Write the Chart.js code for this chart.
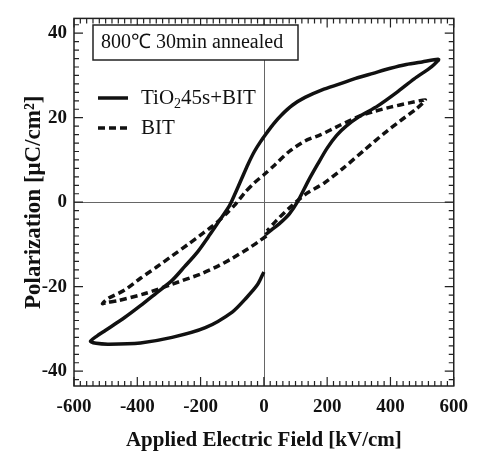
<!DOCTYPE html>
<html>
<head>
<meta charset="utf-8">
<script src="https://cdn.jsdelivr.net/npm/chart.js@4.4.1/dist/chart.umd.min.js"></script>
<style>
body{margin:0;background:#fff}
</style>
</head>
<body>
<canvas id="c" width="478" height="453"></canvas>
<script>
// tick labels
const xTicks = [-600, -400, -200, 0, 200, 400, 600];
const yTicks = [-40, -20, 0, 20, 40];

// TiO2 45s + BIT loop
const tioX = [0, -20, -55, -100, -185, -290, -390, -490, -530, -548, -530, -500, -440, -390, -340, -290, -250, -210, -170, -140, -110, -90, -70, -50, -30, -10, 10, 30, 55, 91, 130, 184, 240, 290, 345, 400, 450, 500, 552, 538, 520, 475, 420, 360, 300, 260, 230, 200, 170, 140, 108, 80, 50, 25, 5];
const tioY = [-16.5, -19.5, -22.6, -26, -29.7, -32, -33.3, -33.6, -33.4, -32.9, -31.8, -30.3, -27.3, -24.5, -21.5, -18.5, -15.2, -11.8, -7.6, -4.3, -1.0, 2.2, 5.6, 9.0, 12.0, 14.4, 16.5, 18.5, 20.6, 23.0, 24.8, 26.6, 28, 29.3, 30.5, 31.7, 32.6, 33.2, 33.8, 32.6, 31.5, 29.2, 26, 22.8, 20.2, 18, 15.8, 12.8, 9, 5, 0.3, -2.8, -5, -6.5, -7.7];

// BIT loop
const bitX = [8, -20, -50, -100, -150, -200, -290, -370, -460, -495, -510, -490, -440, -390, -340, -290, -240, -190, -150, -117, -90, -60, -30, 0, 30, 80, 130, 180, 240, 300, 350, 400, 460, 510, 500, 480, 430, 380, 320, 250, 190, 130, 80, 40, 10];
const bitY = [-8, -9.5, -11, -13.3, -15.3, -17, -19.4, -21.5, -23.3, -23.7, -24, -22.7, -20.8, -18, -15.4, -12.7, -10, -7.2, -4.9, -2.6, -0.5, 2.3, 4.6, 6.5, 8.5, 12, 14.5, 16, 18.2, 20.3, 21.5, 22.5, 23.5, 24.2, 23.3, 22, 19.2, 16.3, 12.5, 8, 4.5, 1.8, -1.4, -4.3, -6.8];

function pts(xs, ys) {
    return xs.map((x, i) => ({x: x, y: ys[i]}));
}

const serif = '"Liberation Serif", "Times New Roman", serif';

// frame, inner ticks, zero lines, note box and legend
const frame = {
    id: 'frame',
    beforeDatasetsDraw(chart) {
        const {ctx, chartArea: a, scales: {x, y}} = chart;
        ctx.save();
        ctx.strokeStyle = '#666';
        ctx.lineWidth = 1;
        const x0 = Math.round(x.getPixelForValue(0)) + 0.5;
        const y0 = Math.round(y.getPixelForValue(0)) + 0.5;
        ctx.beginPath();
        ctx.moveTo(x0, a.top); ctx.lineTo(x0, a.bottom);
        ctx.moveTo(a.left, y0); ctx.lineTo(a.right, y0);
        ctx.stroke();
        ctx.restore();
    },
    afterDatasetsDraw(chart) {
        const {ctx, chartArea: a, scales: {x, y}} = chart;
        ctx.save();
        ctx.strokeStyle = '#222';
        ctx.lineWidth = 1.5;
        ctx.strokeRect(a.left, a.top, a.right - a.left, a.bottom - a.top);
        ctx.lineWidth = 1.2;
        ctx.beginPath();
        for (let v = -600; v <= 600; v += 20) {
            const px = x.getPixelForValue(v);
            const len = v % 200 === 0 ? 9 : 5;
            ctx.moveTo(px, a.bottom); ctx.lineTo(px, a.bottom - len);
            ctx.moveTo(px, a.top); ctx.lineTo(px, a.top + len);
        }
        for (let v = -42; v <= 42; v += 2) {
            const py = y.getPixelForValue(v);
            const len = v % 20 === 0 ? 9 : 5;
            ctx.moveTo(a.left, py); ctx.lineTo(a.left + len, py);
            ctx.moveTo(a.right, py); ctx.lineTo(a.right - len, py);
        }
        ctx.stroke();

        // note box
        ctx.fillStyle = '#fff';
        ctx.fillRect(93, 25, 205, 35);
        ctx.strokeStyle = '#222';
        ctx.lineWidth = 1.5;
        ctx.strokeRect(93, 25, 205, 35);
        ctx.fillStyle = '#111';
        ctx.font = '20px ' + serif;
        ctx.textBaseline = 'middle';
        ctx.textAlign = 'left';
        ctx.fillText('800℃ 30min annealed', 101, 43);

        // legend
        chart.data.datasets.forEach((ds, i) => {
            const ly = 98 + i * 30;
            ctx.beginPath();
            ctx.strokeStyle = ds.borderColor;
            ctx.lineWidth = ds.borderWidth;
            ctx.setLineDash(ds.borderDash || []);
            ctx.moveTo(98, ly); ctx.lineTo(128, ly);
            ctx.stroke();
            ctx.setLineDash([]);
            let tx = 141;
            const parts = ds.label.split('₂');
            parts.forEach((p, k) => {
                ctx.font = '21px ' + serif;
                ctx.fillText(p, tx, ly);
                tx += ctx.measureText(p).width;
                if (k < parts.length - 1) {
                    ctx.font = '14px ' + serif;
                    ctx.fillText('2', tx, ly + 6);
                    tx += ctx.measureText('2').width;
                }
            });
        });
        ctx.restore();
    }
};

new Chart(document.getElementById('c'), {
    type: 'scatter',
    data: {
        datasets: [{
            label: 'TiO₂45s+BIT',
            data: pts(tioX, tioY),
            showLine: true,
            borderColor: '#111',
            borderWidth: 3.5,
            pointRadius: 0,
            tension: 0.25
        }, {
            label: 'BIT',
            data: pts(bitX, bitY),
            showLine: true,
            borderColor: '#111',
            borderWidth: 3.5,
            borderDash: [7, 4],
            pointRadius: 0,
            tension: 0.25
        }]
    },
    options: {
        responsive: false,
        animation: false,
        layout: {padding: {top: 12, right: 17, left: 0, bottom: 0}},
        plugins: {legend: {display: false}, tooltip: {enabled: false}},
        scales: {
            x: {
                type: 'linear',
                min: -600,
                max: 600,
                afterBuildTicks: s => { s.ticks = xTicks.map(v => ({value: v})); },
                afterFit: s => { s.height = 67; },
                grid: {display: false, drawTicks: false},
                border: {display: false},
                ticks: {color: '#111', padding: 10, maxRotation: 0, font: {family: serif, size: 19, weight: 'bold'}},
                title: {display: true, text: 'Applied Electric Field [kV/cm]', color: '#111', padding: {top: 0, bottom: 0}, font: {family: serif, size: 21, weight: 'bold'}}
            },
            y: {
                type: 'linear',
                min: -43.5,
                max: 43.5,
                afterBuildTicks: s => { s.ticks = yTicks.map(v => ({value: v})); },
                afterFit: s => { s.width = 74; },
                grid: {display: false, drawTicks: false},
                border: {display: false},
                ticks: {color: '#111', padding: 7, font: {family: serif, size: 19, weight: 'bold'}},
                title: {display: true, text: 'Polarization [μC/cm²]', color: '#111', padding: {top: 20, bottom: 0}, font: {family: serif, size: 23, weight: 'bold'}}
            }
        }
    },
    plugins: [frame]
});
</script>
</body>
</html>
